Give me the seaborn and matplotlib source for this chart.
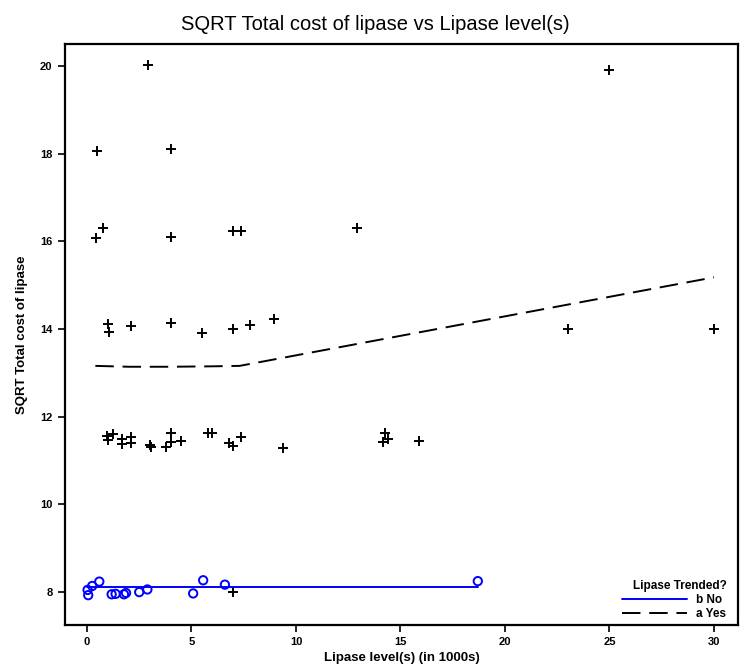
import numpy as np
import pandas as pd
import matplotlib
matplotlib.use("Agg")
import matplotlib.pyplot as plt
import seaborn as sns

# lipase trended = yes (crosses)
yes_x = [2.92, 25.0, 0.49, 4.0, 0.78, 0.42, 4.0, 6.97, 7.38, 12.93,
         0.99, 1.05, 2.1, 4.0, 5.51, 6.97, 7.78, 8.93, 23.0, 30.0,
         0.94, 1.26, 1.02, 1.66, 1.67, 2.1, 2.1, 3.0, 3.05, 4.0, 4.0, 3.78,
         4.51, 5.8, 5.96, 6.81, 6.97, 7.35, 9.36, 14.26, 14.15, 14.42, 15.9,
         6.97]
yes_y = [20.03, 19.9, 18.05, 18.1, 16.3, 16.08, 16.11, 16.24, 16.24, 16.3,
         14.12, 13.93, 14.07, 14.14, 13.9, 13.99, 14.09, 14.22, 14.0, 14.0,
         11.55, 11.6, 11.47, 11.49, 11.38, 11.53, 11.41, 11.35, 11.3, 11.63, 11.43, 11.3,
         11.45, 11.63, 11.63, 11.41, 11.34, 11.53, 11.28, 11.64, 11.43, 11.49, 11.45,
         8.0]

# lipase trended = no (circles)
no_x = [0.03, 0.06, 0.25, 0.59, 1.18, 1.37, 1.77, 1.87, 2.5, 2.89, 5.08, 5.56, 6.6, 18.7]
no_y = [8.05, 7.93, 8.14, 8.24, 7.95, 7.96, 7.95, 7.98, 8.0, 8.06, 7.97, 8.27, 8.17, 8.25]

# fitted trend lines
yes_fit_x = [0.4, 2.0, 4.0, 6.0, 7.3, 30.0]
yes_fit_y = [13.16, 13.14, 13.14, 13.15, 13.16, 15.18]
no_fit_x = [0.0, 18.7]
no_fit_y = [8.11, 8.11]

yes_df = pd.DataFrame({"lipase": yes_x, "cost": yes_y})
no_df = pd.DataFrame({"lipase": no_x, "cost": no_y})
yes_fit = pd.DataFrame({"lipase": yes_fit_x, "cost": yes_fit_y})
no_fit = pd.DataFrame({"lipase": no_fit_x, "cost": no_fit_y})

sns.set_style("white")
plt.rcParams["font.family"] = ["Liberation Sans", "DejaVu Sans"]
plt.rcParams.update({"text.color": "black", "axes.labelcolor": "black",
                     "xtick.color": "black", "ytick.color": "black"})

fig = plt.figure(figsize=(7.5, 6.68), dpi=100)
ax = fig.add_axes([0.0867, 0.0644, 0.8973, 0.8696])

sns.lineplot(data=no_fit, x="lipase", y="cost", color="#0000ff", lw=1.4,
             label="b No", ax=ax)
sns.lineplot(data=yes_fit, x="lipase", y="cost", color="black", lw=1.4,
             dashes=False, label="a Yes", ax=ax)
ax.lines[-1].set_dashes((9.5, 4.5))

sns.scatterplot(data=yes_df, x="lipase", y="cost", marker="+", color="black",
                s=48, linewidth=1.4, ax=ax, legend=False)
sns.scatterplot(data=no_df, x="lipase", y="cost", marker="o", facecolor="none",
                edgecolor="#0000ff", s=36, linewidth=1.4, ax=ax, legend=False)

ax.set_xlim(-1.05, 31.15)
ax.set_ylim(7.25, 20.5)
ax.set_xticks([0, 5, 10, 15, 20, 25, 30])
ax.set_yticks([8, 10, 12, 14, 16, 18, 20])

for lbl in ax.get_xticklabels() + ax.get_yticklabels():
    lbl.set_fontweight("bold")
    lbl.set_fontsize(8)
ax.tick_params(axis="both", direction="out", length=5, width=1.2, color="black",
               left=True, bottom=True, pad=4)

for sp in ax.spines.values():
    sp.set_color("black")
    sp.set_linewidth(1.6)

ax.set_xlabel("Lipase level(s) (in 1000s)", fontweight="bold",
              fontsize=9.5, labelpad=3)
ax.set_ylabel("SQRT Total cost of lipase", fontweight="bold",
              fontsize=9.5, labelpad=9)
fig.suptitle("SQRT Total cost of lipase vs Lipase level(s)", fontsize=14.5,
             y=0.978)

handles, labels = ax.get_legend_handles_labels()
leg = ax.legend(handles, labels, title="Lipase Trended?", loc="lower right",
                bbox_to_anchor=(0.988, 0.003),
                frameon=False, handlelength=5.5, handletextpad=0.8,
                labelspacing=0.15, borderaxespad=0.0, borderpad=0.3,
                prop={"weight": "bold", "size": 8.5},
                title_fontproperties={"weight": "bold", "size": 8.5})
leg._legend_box.align = "right"

fig.savefig("out.png", dpi=100)
